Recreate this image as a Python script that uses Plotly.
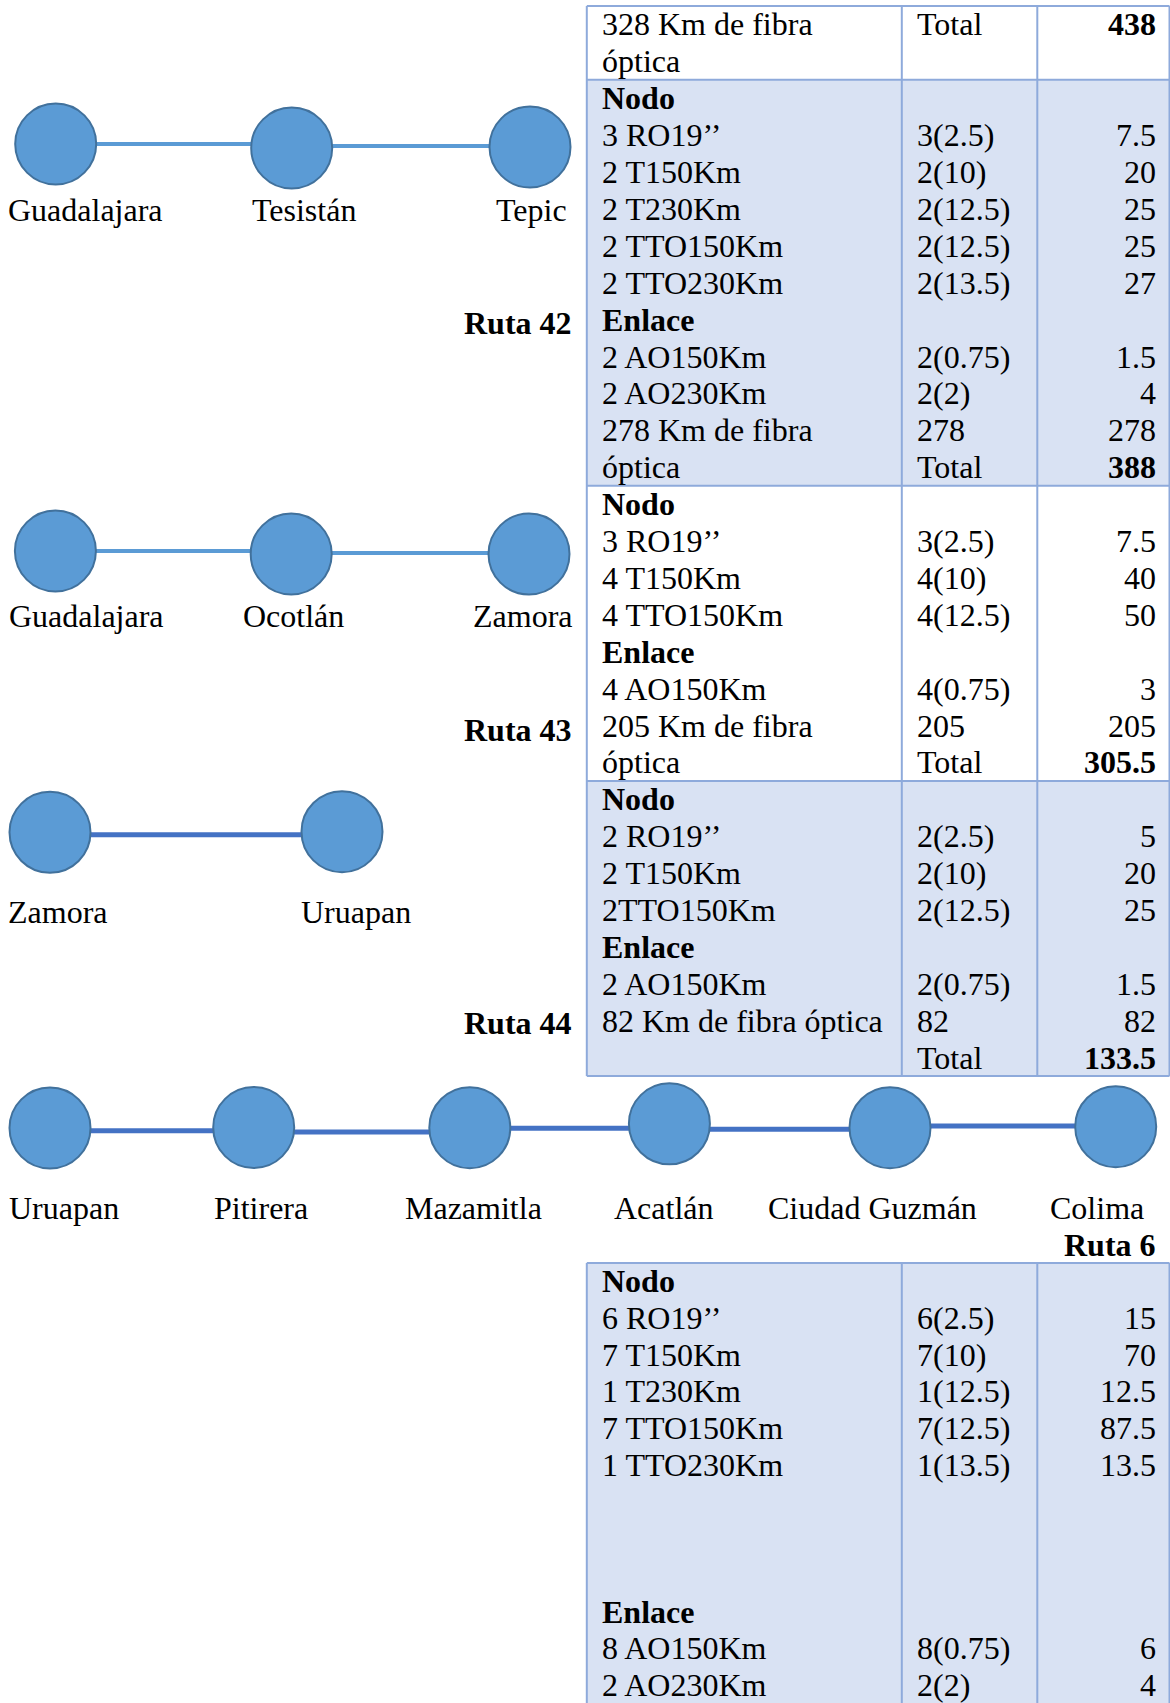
import plotly.graph_objects as go

# ---------------- data ----------------
route_names = ["Ruta 42", "Ruta 43", "Ruta 44", "Ruta 6"]
route42_cities = ["Guadalajara", "Tesistán", "Tepic"]
route43_cities = ["Guadalajara", "Ocotlán", "Zamora"]
route44_cities = ["Zamora", "Uruapan"]
route6_cities = ["Uruapan", "Pitirera", "Mazamitla", "Acatlán", "Ciudad Guzmán", "Colima"]

Q = "\u2019\u2019"
# upper table (continuation of previous route + Ruta 42, 43, 44)
top_items = ["328 Km de fibra", "óptica",
             "Nodo", "3 RO19" + Q, "2 T150Km", "2 T230Km", "2 TTO150Km", "2 TTO230Km",
             "Enlace", "2 AO150Km", "2 AO230Km", "278 Km de fibra", "óptica",
             "Nodo", "3 RO19" + Q, "4 T150Km", "4 TTO150Km",
             "Enlace", "4 AO150Km", "205 Km de fibra", "óptica",
             "Nodo", "2 RO19" + Q, "2 T150Km", "2TTO150Km",
             "Enlace", "2 AO150Km", "82 Km de fibra óptica", ""]
top_formula = ["Total", "",
               "", "3(2.5)", "2(10)", "2(12.5)", "2(12.5)", "2(13.5)",
               "", "2(0.75)", "2(2)", "278", "Total",
               "", "3(2.5)", "4(10)", "4(12.5)",
               "", "4(0.75)", "205", "Total",
               "", "2(2.5)", "2(10)", "2(12.5)",
               "", "2(0.75)", "82", "Total"]
top_cost = ["438", "",
            "", "7.5", "20", "25", "25", "27",
            "", "1.5", "4", "278", "388",
            "", "7.5", "40", "50",
            "", "3", "205", "305.5",
            "", "5", "20", "25",
            "", "1.5", "82", "133.5"]
# rows per section of the upper table, and whether each section is shaded
top_section_rows = [2, 11, 8, 8]
top_section_shaded = [False, True, False, True]

# lower table (Ruta 6)
bot_items = ["Nodo", "6 RO19" + Q, "7 T150Km", "1 T230Km", "7 TTO150Km", "1 TTO230Km",
             "", "", "", "Enlace", "8 AO150Km", "2 AO230Km"]
bot_formula = ["", "6(2.5)", "7(10)", "1(12.5)", "7(12.5)", "1(13.5)",
               "", "", "", "", "8(0.75)", "2(2)"]
bot_cost = ["", "15", "70", "12.5", "87.5", "13.5",
            "", "", "", "", "6", "4"]

# ---------------- styles / layout ----------------
W, H = 1170, 1703
FONT = "Liberation Serif, Times New Roman, serif"
FS = 32
NODE_FILL = "#5B9BD5"
NODE_LINE = "#41719C"
LINK_LIGHT = "#5B9BD5"
LINK_DARK = "#4472C4"
BORDER = "#8EAADB"
CELL_FILL = "#D9E2F3"
NODE_SIZE = 81

diagrams = [
    dict(cities=route42_cities, name=route_names[0],
         cx=[55.7, 291.7, 530], cy=[144, 148, 147], link_y=[144, 146],
         link_color=LINK_LIGHT, link_w=4,
         label_x=[8.3, 252, 496], label_y=210, name_x=571.5, name_y=323),
    dict(cities=route43_cities, name=route_names[1],
         cx=[55.4, 291.2, 529], cy=[551, 554, 554], link_y=[551, 553],
         link_color=LINK_LIGHT, link_w=4,
         label_x=[8.7, 243, 472.6], label_y=616, name_x=571.5, name_y=730),
    dict(cities=route44_cities, name=route_names[2],
         cx=[50, 342], cy=[832.3, 831.7], link_y=[834.7],
         link_color=LINK_DARK, link_w=5,
         label_x=[8.3, 301], label_y=911.7, name_x=571.5, name_y=1023),
    dict(cities=route6_cities, name=route_names[3],
         cx=[50, 253.7, 469.8, 669.4, 890, 1115.7],
         cy=[1128, 1127.5, 1127.7, 1123.8, 1127.7, 1126.7],
         link_y=[1130.7, 1132, 1128.3, 1129.3, 1126],
         link_color=LINK_DARK, link_w=5,
         label_x=[8.7, 214, 405, 614, 768, 1049.5], label_y=1208,
         name_x=1156, name_y=1245),
]

# table geometry
TX = [586.8, 901.8, 1037.3, 1169.5]       # borders
TEXT_X = [601.5, 916.8, 1155.8]            # col1 left, col2 left, col3 right
TOP_Y0, TOP_PITCH = 6.0, 36.9
BOT_Y0, BOT_PITCH = 1263.0, 36.7

fig = go.Figure()
annotations = []
shapes = []


def txt(x, y, s, anchor="left", bold=False):
    annotations.append(dict(
        x=x, y=y, xref="x", yref="y", text=("<b>%s</b>" % s) if bold else s,
        showarrow=False, xanchor=anchor, yanchor="middle",
        font=dict(family=FONT, size=FS, color="black"),
        borderpad=0, borderwidth=0))


# ---------- route diagrams ----------
for d in diagrams:
    n = len(d["cities"])
    for i in range(n - 1):
        fig.add_trace(go.Scatter(
            x=[d["cx"][i], d["cx"][i + 1]], y=[d["link_y"][i], d["link_y"][i]],
            mode="lines", line=dict(color=d["link_color"], width=d["link_w"]),
            hoverinfo="skip", showlegend=False))
    fig.add_trace(go.Scatter(
        x=d["cx"], y=d["cy"], mode="markers", text=d["cities"],
        marker=dict(size=NODE_SIZE, color=NODE_FILL,
                    line=dict(color=NODE_LINE, width=2)),
        hoverinfo="text", showlegend=False, cliponaxis=False))
    for c, lx in zip(d["cities"], d["label_x"]):
        txt(lx, d["label_y"], c)
    txt(d["name_x"], d["name_y"], d["name"], anchor="right", bold=True)


# ---------- tables ----------
def draw_table(items, formula, cost, y0, pitch, sections, shaded, open_bottom=False):
    n_rows = len(items)
    y = y0
    ys = [y0]
    for rows, sh in zip(sections, shaded):
        y_end = y + rows * pitch
        if sh:
            shapes.append(dict(type="rect", xref="x", yref="y", x0=TX[0], x1=TX[3],
                               y0=y, y1=(H + 20) if open_bottom else y_end,
                               fillcolor=CELL_FILL, line=dict(width=0), layer="below"))
        ys.append(y_end)
        y = y_end
    hlines = ys if not open_bottom else ys[:1]
    for yy in hlines:
        shapes.append(dict(type="line", xref="x", yref="y", x0=TX[0], x1=TX[3],
                           y0=yy, y1=yy, line=dict(color=BORDER, width=2)))
    y_bottom = (H + 20) if open_bottom else ys[-1]
    for xx in TX:
        shapes.append(dict(type="line", xref="x", yref="y", x0=xx, x1=xx,
                           y0=y0, y1=y_bottom, line=dict(color=BORDER, width=2)))
    for r in range(n_rows):
        yc = y0 + pitch * (r + 0.5)
        it, fo, co = items[r], formula[r], cost[r]
        if it:
            txt(TEXT_X[0], yc, it, bold=it in ("Nodo", "Enlace"))
        if fo:
            txt(TEXT_X[1], yc, fo)
        if co:
            txt(TEXT_X[2], yc, co, anchor="right", bold=(fo == "Total"))


draw_table(top_items, top_formula, top_cost, TOP_Y0, TOP_PITCH,
           top_section_rows, top_section_shaded)
draw_table(bot_items, bot_formula, bot_cost, BOT_Y0, BOT_PITCH,
           [len(bot_items)], [True], open_bottom=True)

fig.update_layout(
    width=W, height=H, autosize=False,
    margin=dict(l=0, r=0, t=0, b=0, pad=0),
    paper_bgcolor="white", plot_bgcolor="white",
    xaxis=dict(range=[0, W], visible=False, fixedrange=True),
    yaxis=dict(range=[H, 0], visible=False, fixedrange=True),
    annotations=annotations, shapes=shapes,
    showlegend=False,
)

fig.write_html("out.html",
               config={"displayModeBar": False},
               post_script="document.body.style.margin='0';document.body.style.overflow='hidden';")
